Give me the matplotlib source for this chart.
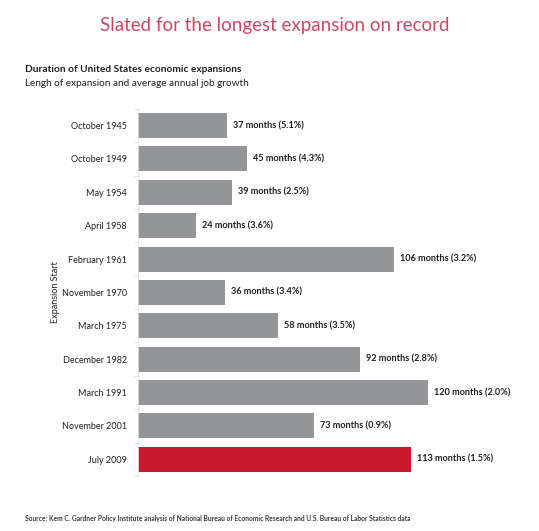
import numpy as np
import matplotlib.pyplot as plt

starts = ["October 1945", "October 1949", "May 1954", "April 1958", "February 1961",
          "November 1970", "March 1975", "December 1982", "March 1991",
          "November 2001", "July 2009"]
months = [37, 45, 39, 24, 106, 36, 58, 92, 120, 73, 113]
job_growth = [5.1, 4.3, 2.5, 3.6, 3.2, 3.4, 3.5, 2.8, 2.0, 0.9, 1.5]

plt.rcParams['font.family'] = ['Lato', 'DejaVu Sans']

gray = '#939598'
red = '#c8192e'
colors = [gray] * (len(starts) - 1) + [red]

fig = plt.figure(figsize=(5.39, 5.31), dpi=100)
xmax = 165
left = 138 / 539
width = 2.417 * xmax / 539
ax = fig.add_axes([left, 1 - 476 / 531, width, (476 - 108.8) / 531])

y = np.arange(len(starts))
ax.barh(y, months, height=0.75, color=colors)
ax.set_ylim(len(starts) - 0.5, -0.5)
ax.set_xlim(0, xmax)

for yi, m, g in zip(y, months, job_growth):
    ax.text(m + 2.5, yi, f"{m} months ({g:.1f}%)", va='center', ha='left',
            fontsize=6.6, fontweight='bold', color='#231f20')

ax.set_yticks(y)
ax.set_yticklabels(starts, fontsize=6.5, color='#231f20')
ax.set_yticks(np.arange(-0.5, len(starts)), minor=True)
ax.tick_params(axis='y', which='major', length=0, pad=8)
ax.tick_params(axis='y', which='minor', length=3, color='#dddddd', width=0.6)
ax.set_xticks([])
for s in ['top', 'right', 'bottom']:
    ax.spines[s].set_visible(False)
ax.spines['left'].set_color('#e2e2e2')
ax.spines['left'].set_linewidth(0.6)

ax.set_ylabel("Expansion Start", fontsize=6.5, color='#231f20')
ax.yaxis.set_label_coords(-0.195, 0.5)

fig.text(0.51, 1 - 26 / 531, "Slated for the longest expansion on record", ha='center', va='center',
         fontsize=13.5, fontweight='normal', color='#cc4862')
fig.text(25 / 539, 1 - 70 / 531, "Duration of United States economic expansions", ha='left',
         va='center', fontsize=7.3, fontweight='bold', color='#231f20')
fig.text(25 / 539, 1 - 84 / 531, "Lengh of expansion and average annual job growth", ha='left',
         va='center', fontsize=7.2, color='#231f20')
fig.text(25 / 539, 1 - 518 / 531,
         "Source: Kem C. Gardner Policy Institute analysis of National Bureau of Economic Research and U.S. Bureau of Labor Statistics data",
         ha='left', va='center', fontsize=4.8, fontweight='bold', color='#3a3a3a')

fig.savefig('out.png', dpi=100)
